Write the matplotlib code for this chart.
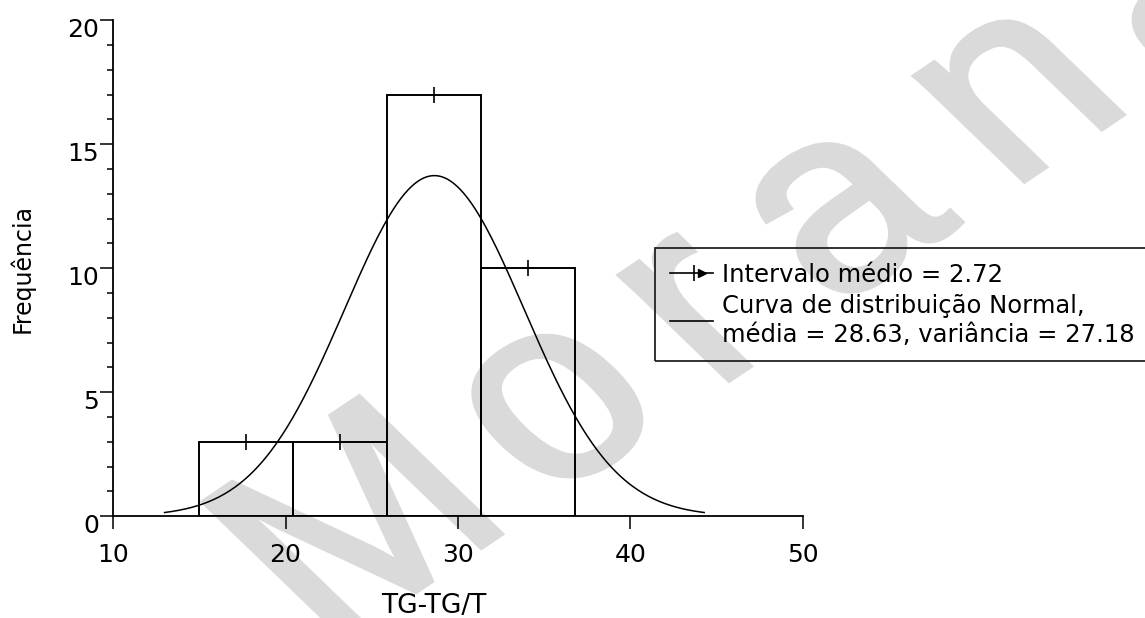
import numpy as np
import matplotlib
matplotlib.use('Agg')
import matplotlib.pyplot as plt
from matplotlib.lines import Line2D
from matplotlib.legend_handler import HandlerBase
from matplotlib.transforms import ScaledTranslation, Affine2D
from matplotlib.textpath import TextPath
from matplotlib.patches import PathPatch
from matplotlib.path import Path
from matplotlib.font_manager import FontProperties

# histogram of TG-TG/T values
bin_edges = [15.0, 20.44, 25.88, 31.32, 36.76]
counts = [3, 3, 17, 10]
mean_interval = 2.72

# fitted normal curve parameters
curve_mean = 28.63
curve_var = 27.18

x_ticks = [10, 20, 30, 40, 50]
y_ticks = [0, 5, 10, 15, 20]


class MeanTickHandler(HandlerBase):
    '''Legend key: line with a tick and a small arrowhead'''
    def create_artists(self, legend, orig_handle, xdescent, ydescent,
                       width, height, fontsize, trans):
        y = height / 2 - ydescent
        x0 = -xdescent
        line = Line2D([x0, x0 + width], [y, y], color='k', lw=1.2, transform=trans)
        tick = Line2D([x0 + 0.55 * width], [y], marker='|', ms=11, mew=1.2,
                      color='k', transform=trans)
        head = Line2D([x0 + 0.75 * width], [y], marker='>', ms=6,
                      color='k', transform=trans)
        return [line, tick, head]


def spaced_text_path(text, prop, tracking):
    '''Glyph outlines laid out with extra space between letters'''
    parts = []
    x = 0.0
    for ch in text:
        p = TextPath((x, 0), ch, size=1.0, prop=prop)
        parts.append(p)
        x = p.get_extents().x1 + tracking
    return Path.make_compound_path(*parts)


plt.rcParams['font.family'] = ['DejaVu Sans']

fig = plt.figure(figsize=(11.45, 6.18), dpi=100)
ax = fig.add_axes([113 / 1145, 1 - 516.3 / 618, 690 / 1145, 496 / 618])
ax.set_zorder(1)
ax.set_facecolor('none')

# faint slanted watermark behind the plot (pixel coordinates)
wm = spaced_text_path('Morana', FontProperties(family='Liberation Sans'), 0.2)
ext = wm.get_extents()
wm_tr = (Affine2D().translate(-(ext.x0 + ext.x1) / 2, -(ext.y0 + ext.y1) / 2)
         .scale(280).skew_deg(-12, 0).rotate_deg(34).translate(752, 618 - 250))
fig.add_artist(PathPatch(wm, transform=wm_tr, facecolor='#dadada',
                         edgecolor='#dadada', linewidth=4, zorder=0))

edges = np.array(bin_edges)
widths = np.diff(edges)
centers = edges[:-1] + widths / 2
ax.bar(edges[:-1], counts, width=widths, align='edge', facecolor='none',
       edgecolor='k', linewidth=1.4, zorder=2)
ax.plot(centers, counts, linestyle='none', marker='|', markersize=11,
        markeredgewidth=1.2, color='k', zorder=3)

# normal curve scaled to the histogram counts
sd = np.sqrt(curve_var)
n_obs = sum(counts)
xs = np.linspace(curve_mean - 3 * sd, curve_mean + 3 * sd, 300)
pdf = np.exp(-0.5 * ((xs - curve_mean) / sd) ** 2) / (sd * np.sqrt(2 * np.pi))
ax.plot(xs, pdf * n_obs * widths.mean(), color='k', linewidth=1.1, zorder=3)

ax.set_xlim(10, 50)
ax.set_ylim(0, 20)
ax.set_xticks(x_ticks)
ax.set_yticks(y_ticks)
ax.set_yticks(np.arange(0, 21, 1), minor=True)
ax.spines['top'].set_visible(False)
ax.spines['right'].set_visible(False)
for s in ['left', 'bottom']:
    ax.spines[s].set_linewidth(1.3)
ax.tick_params(axis='both', which='major', direction='out', length=9.5,
               width=1.1, labelsize=18)
ax.tick_params(axis='y', which='major', pad=0.5)
ax.tick_params(axis='x', which='major', pad=10)
ax.tick_params(axis='y', which='minor', direction='out', length=4.5, width=1.1)
for lbl in ax.get_yticklabels():
    lbl.set_transform(lbl.get_transform() + ScaledTranslation(0, -0.07, fig.dpi_scale_trans))

ax.set_xlabel('TG-TG/T', fontsize=19)
ax.xaxis.set_label_coords(0.465, -0.155)
ax.set_ylabel('Frequência', fontsize=17)
ax.yaxis.set_label_coords(-0.113, 0.5)

h1 = Line2D([], [], color='k')
h2 = Line2D([], [], color='k', lw=1.2)
leg = fig.legend([h1, h2],
                 [f'Intervalo médio = {mean_interval:.2f}',
                  f'Curva de distribuição Normal,\nmédia = {curve_mean:.2f}, variância = {curve_var:.2f}'],
                 handler_map={h1: MeanTickHandler()},
                 loc='upper left', mode='expand',
                 bbox_to_anchor=(655 / 1145, 1 - 248 / 618, 560 / 1145, 0),
                 borderaxespad=0, fontsize=17.5, handlelength=1.8, handletextpad=0.35,
                 borderpad=0.6, labelspacing=0.3, fancybox=False, framealpha=1)
leg.set_zorder(5)
leg.get_frame().set_facecolor('none')
leg.get_frame().set_edgecolor('#222222')
leg.get_frame().set_linewidth(1.3)
for t in leg.get_texts():
    t.set_linespacing(1.25)

fig.savefig('out.png', dpi=100)
